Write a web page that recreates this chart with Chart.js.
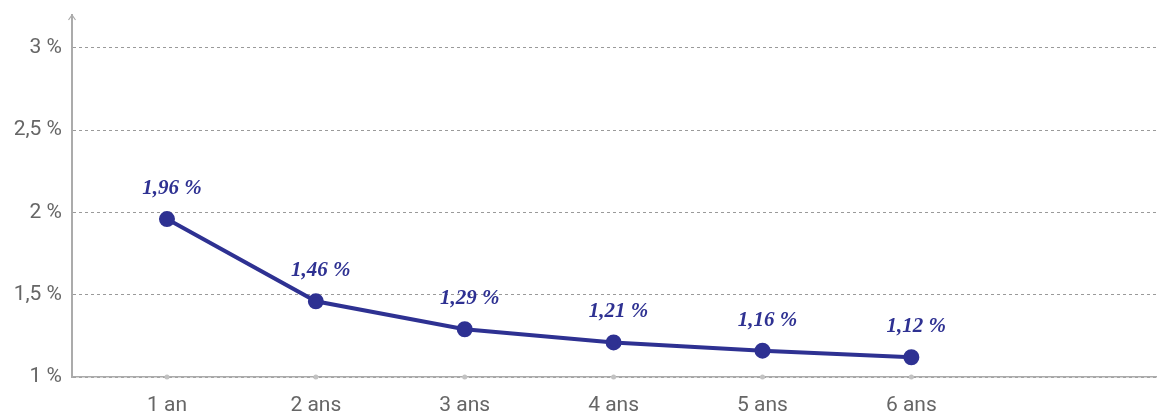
<!DOCTYPE html>
<html>
<head>
<meta charset="utf-8">
<script src="https://cdn.jsdelivr.net/npm/chart.js@4/dist/chart.umd.min.js"></script>
<style>
  html, body { margin: 0; padding: 0; background: #fff; }
  #wrap { width: 1157px; height: 414px; }
</style>
</head>
<body>
<div id="wrap"><canvas id="taux-chart"></canvas></div>
<script>
const durations = ["1 an", "2 ans", "3 ans", "4 ans", "5 ans", "6 ans"];
const positions = [1, 2, 3, 4, 5, 6];
const rates = [1.96, 1.46, 1.29, 1.21, 1.16, 1.12];
const yTicks = [1, 1.5, 2, 2.5, 3];

const lineColor = "#2E3192";
const axisColor = "#ababab";

// labels above each point, e.g. "1,96 %"
const valueLabels = {
  id: "valueLabels",
  afterDatasetsDraw(chart) {
    const ctx = chart.ctx;
    const meta = chart.getDatasetMeta(0);
    ctx.save();
    ctx.font = "italic bold 21px 'Liberation Serif'";
    ctx.fillStyle = lineColor;
    ctx.textAlign = "center";
    ctx.textBaseline = "bottom";
    meta.data.forEach((pt, i) => {
      const txt = rates[i].toFixed(2).replace(".", ",") + " %";
      ctx.fillText(txt, pt.x + 5, pt.y - 20);
    });
    ctx.restore();
  },
};

// small arrow head at the top of the y axis
const axisArrow = {
  id: "axisArrow",
  afterDraw(chart) {
    const ctx = chart.ctx;
    const x = chart.scales.y.left + chart.scales.y.width;
    const top = chart.chartArea.top;
    ctx.save();
    ctx.strokeStyle = axisColor;
    ctx.lineWidth = 1.2;
    ctx.beginPath();
    ctx.moveTo(x - 3.5, top + 5);
    ctx.lineTo(x, top);
    ctx.lineTo(x + 3.5, top + 5);
    ctx.stroke();
    ctx.restore();
  },
};

const data = {
  datasets: [
    {
      data: positions.map((p, i) => ({ x: p, y: rates[i] })),
      showLine: true,
      borderColor: lineColor,
      backgroundColor: lineColor,
      borderWidth: 4,
      pointRadius: 6,
      pointHoverRadius: 6,
      tension: 0,
      clip: false,
    },
    {
      // grey dots on the x axis
      data: positions.map((p) => ({ x: p, y: 1 })),
      showLine: false,
      pointRadius: 2.5,
      backgroundColor: "#c2c2c2",
      borderWidth: 0,
      clip: false,
    },
  ],
};

const options = {
  responsive: true,
  maintainAspectRatio: false,
  animation: false,
  layout: { autoPadding: false, padding: { top: 15, right: 0, left: 0, bottom: 0 } },
  scales: {
    x: {
      type: "linear",
      min: 0.362,
      max: 7.65,
      afterBuildTicks: (scale) => {
        scale.ticks = positions.map((v) => ({ value: v }));
      },
      afterFit: (scale) => {
        scale.height = 37;
        scale.paddingLeft = 0;
        scale.paddingRight = 0;
      },
      grid: { display: false },
      border: { color: axisColor, width: 1.5 },
      ticks: {
        padding: 8,
        color: "#666",
        font: { family: "Roboto", size: 21 },
        callback: (v) => durations[positions.indexOf(v)] || "",
      },
    },
    y: {
      min: 1,
      max: 3.2,
      afterBuildTicks: (scale) => {
        scale.ticks = yTicks.map((v) => ({ value: v }));
      },
      afterFit: (scale) => {
        scale.width = 72;
        scale.paddingTop = 0;
        scale.paddingBottom = 0;
      },
      grid: {
        color: "#9a9a9a",
        lineWidth: 1,
        drawTicks: false,
      },
      border: { color: axisColor, width: 2, dash: [3, 3] },
      ticks: {
        padding: 10,
        color: "#666",
        font: { family: "Roboto", size: 21 },
        callback: (v) => String(v).replace(".", ",") + " %",
      },
    },
  },
  plugins: {
    legend: { display: false },
    tooltip: { enabled: false },
  },
};

const taux_chart = document.getElementById("taux-chart").getContext("2d");
const tauxChart = new Chart(taux_chart, {
  type: "scatter",
  data: data,
  options: options,
  plugins: [valueLabels, axisArrow],
});
</script>
</body>
</html>
